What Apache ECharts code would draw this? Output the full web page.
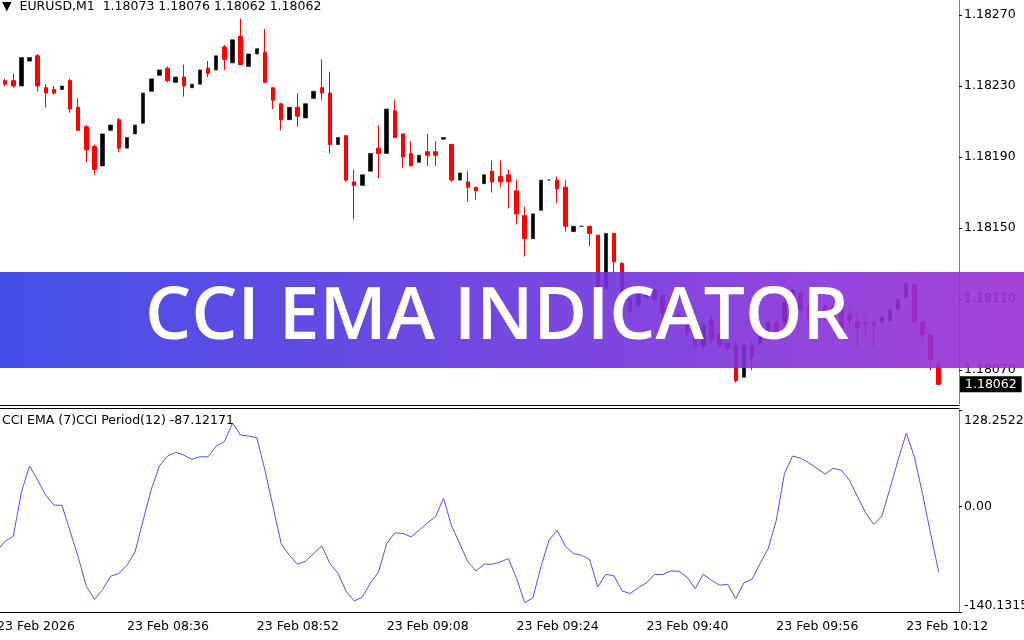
<!DOCTYPE html>
<html>
<head>
<meta charset="utf-8">
<title>CCI EMA Indicator</title>
<script src="https://cdn.jsdelivr.net/npm/echarts@6/dist/echarts.min.js"></script>
<style>
html, body { margin: 0; padding: 0; background: #fff; }
#chart { width: 1024px; height: 640px; }
</style>
</head>
<body>
<div id="chart"></div>
<script>
// minute bars 08:20 .. 10:18 (first and last two slots are empty)
const times = [];
for (let m = 8 * 60 + 20; m <= 10 * 60 + 18; m++) {
	times.push(String(Math.floor(m / 60)).padStart(2, '0') + ':' + String(m % 60).padStart(2, '0'));
}

// EURUSD M1, [open, close, low, high], from 08:21
const ohlc = [
	[1.18233, 1.18231, 1.18230, 1.18234], [1.18233, 1.18230, 1.18229, 1.18237], [1.18230, 1.18246, 1.18230, 1.18246],
	[1.18244, 1.18246, 1.18244, 1.18246], [1.18247, 1.18230, 1.18227, 1.18248], [1.18229, 1.18226, 1.18218, 1.18231],
	[1.18228, 1.18226, 1.18225, 1.18230], [1.18228, 1.18230, 1.18228, 1.18230], [1.18233, 1.18217, 1.18215, 1.18234],
	[1.18218, 1.18205, 1.18205, 1.18223], [1.18207, 1.18194, 1.18187, 1.18208], [1.18196, 1.18183, 1.18180, 1.18197],
	[1.18185, 1.18203, 1.18185, 1.18203], [1.18205, 1.18208, 1.18205, 1.18208], [1.18211, 1.18195, 1.18193, 1.18212],
	[1.18195, 1.18201, 1.18195, 1.18201], [1.18203, 1.18208, 1.18203, 1.18208], [1.18209, 1.18226, 1.18209, 1.18226],
	[1.18227, 1.18234, 1.18227, 1.18234], [1.18236, 1.18239, 1.18236, 1.18239], [1.18240, 1.18233, 1.18232, 1.18241],
	[1.18232, 1.18235, 1.18232, 1.18235], [1.18235, 1.18230, 1.18224, 1.18242], [1.18229, 1.18231, 1.18229, 1.18231],
	[1.18231, 1.18239, 1.18231, 1.18239], [1.18240, 1.18237, 1.18235, 1.18244], [1.18239, 1.18247, 1.18239, 1.18247],
	[1.18252, 1.18245, 1.18239, 1.18253], [1.18243, 1.18256, 1.18243, 1.18256], [1.18258, 1.18242, 1.18242, 1.18268],
	[1.18241, 1.18248, 1.18241, 1.18248], [1.18248, 1.18251, 1.18248, 1.18251], [1.18249, 1.18232, 1.18232, 1.18262],
	[1.18229, 1.18222, 1.18217, 1.18229], [1.18220, 1.18211, 1.18205, 1.18220], [1.18211, 1.18218, 1.18211, 1.18218],
	[1.18218, 1.18213, 1.18207, 1.18226], [1.18212, 1.18220, 1.18212, 1.18220], [1.18223, 1.18227, 1.18223, 1.18227],
	[1.18229, 1.18226, 1.18222, 1.18245], [1.18226, 1.18197, 1.18192, 1.18238], [1.18197, 1.18201, 1.18197, 1.18201],
	[1.18202, 1.18177, 1.18176, 1.18202], [1.18176, 1.18174, 1.18155, 1.18183], [1.18174, 1.18180, 1.18174, 1.18180],
	[1.18182, 1.18192, 1.18182, 1.18192], [1.18195, 1.18192, 1.18178, 1.18208], [1.18192, 1.18217, 1.18192, 1.18217],
	[1.18216, 1.18201, 1.18201, 1.18222], [1.18203, 1.18190, 1.18184, 1.18203], [1.18192, 1.18185, 1.18185, 1.18199],
	[1.18187, 1.18191, 1.18187, 1.18191], [1.18193, 1.18191, 1.18185, 1.18203], [1.18193, 1.18191, 1.18185, 1.18199],
	[1.18200, 1.18201, 1.18200, 1.18201], [1.18197, 1.18177, 1.18176, 1.18197], [1.18177, 1.18181, 1.18177, 1.18181],
	[1.18176, 1.18173, 1.18165, 1.18182], [1.18173, 1.18171, 1.18166, 1.18173], [1.18175, 1.18180, 1.18175, 1.18180],
	[1.18182, 1.18176, 1.18170, 1.18188], [1.18179, 1.18176, 1.18173, 1.18188], [1.18180, 1.18176, 1.18161, 1.18183],
	[1.18171, 1.18158, 1.18152, 1.18177], [1.18157, 1.18144, 1.18134, 1.18162], [1.18144, 1.18158, 1.18144, 1.18158],
	[1.18160, 1.18177, 1.18160, 1.18177], [1.18177, 1.18177, 1.18177, 1.18177], [1.18177, 1.18172, 1.18164, 1.18179],
	[1.18173, 1.18151, 1.18148, 1.18177], [1.18148, 1.18151, 1.18148, 1.18151], [1.18151, 1.18151, 1.18151, 1.18151],
	[1.18151, 1.18147, 1.18140, 1.18151], [1.18146, 1.18110, 1.18107, 1.18146], [1.18116, 1.18147, 1.18116, 1.18147],
	[1.18147, 1.18131, 1.18125, 1.18147], [1.18130, 1.18111, 1.18109, 1.18131], [1.18110, 1.18103, 1.18100, 1.18111],
	[1.18107, 1.18114, 1.18105, 1.18116], [1.18111, 1.18116, 1.18110, 1.18118], [1.18115, 1.18110, 1.18108, 1.18116],
	[1.18112, 1.18102, 1.18099, 1.18113], [1.18102, 1.18099, 1.18097, 1.18104], [1.18101, 1.18097, 1.18095, 1.18103],
	[1.18098, 1.18091, 1.18089, 1.18099], [1.18093, 1.18084, 1.18082, 1.18095], [1.18084, 1.18095, 1.18082, 1.18097],
	[1.18098, 1.18087, 1.18085, 1.18100], [1.18090, 1.18084, 1.18082, 1.18091], [1.18085, 1.18082, 1.18080, 1.18086],
	[1.18084, 1.18064, 1.18063, 1.18086], [1.18066, 1.18084, 1.18066, 1.18085], [1.18084, 1.18077, 1.18070, 1.18087],
	[1.18085, 1.18089, 1.18084, 1.18090], [1.18089, 1.18097, 1.18088, 1.18098], [1.18097, 1.18091, 1.18090, 1.18098],
	[1.18097, 1.18108, 1.18095, 1.18110], [1.18106, 1.18115, 1.18104, 1.18116], [1.18113, 1.18104, 1.18103, 1.18115],
	[1.18105, 1.18099, 1.18097, 1.18107], [1.18099, 1.18104, 1.18098, 1.18106], [1.18106, 1.18100, 1.18098, 1.18107],
	[1.18098, 1.18106, 1.18097, 1.18107], [1.18104, 1.18094, 1.18093, 1.18105], [1.18101, 1.18098, 1.18094, 1.18106],
	[1.18097, 1.18094, 1.18083, 1.18102], [1.18097, 1.18096, 1.18089, 1.18100], [1.18097, 1.18095, 1.18083, 1.18097],
	[1.18097, 1.18100, 1.18096, 1.18100], [1.18098, 1.18104, 1.18098, 1.18104], [1.18104, 1.18110, 1.18103, 1.18110],
	[1.18111, 1.18119, 1.18111, 1.18120], [1.18118, 1.18097, 1.18097, 1.18119], [1.18097, 1.18090, 1.18087, 1.18097],
	[1.18090, 1.18076, 1.18070, 1.18090], [1.18073, 1.18062, 1.18062, 1.18076]
];

// CCI EMA(7) of CCI(12), from 08:20
const cci = [
	-59.0, -46.0, -39.4, 19.2, 53.8, 35.1, 15.2, 1.9, 1.5, -33.0, -67.3, -105.9, -123.6, -110.3, -92.6, -89.0,
	-78.0, -60.3, -18.1, 22.8, 53.8, 67.1, 72.0, 68.4, 62.7, 66.1, 66.1, 80.4, 86.1, 110.6, 95.0, 93.7,
	91.4, 48.4, -0.4, -49.1, -64.7, -76.6, -72.7, -62.4, -52.3, -75.7, -88.6, -112.6, -125.5, -120.2, -101.5, -86.9,
	-49.1, -35.0, -35.8, -40.3, -31.4, -21.7, -13.7, 10.8, -26.1, -49.1, -73.6, -85.6, -76.6, -76.6, -73.6, -69.1,
	-95.7, -127.6, -121.5, -80.2, -44.7, -31.4, -52.7, -62.4, -64.7, -70.4, -106.8, -90.0, -92.2, -112.2, -115.6, -107.6,
	-101.5, -90.3, -90.3, -85.6, -86.0, -93.9, -109.0, -90.0, -97.9, -104.6, -103.3, -122.3, -101.5, -96.6, -75.7, -55.8,
	-18.1, 44.0, 67.1, 64.0, 58.1, 50.7, 43.1, 50.7, 48.4, 35.1, 12.9, -8.4, -23.8, -12.8, 24.1, 61.7,
	97.3, 66.1, 17.4, -35.8, -87.12171
];

const priceTicks = [1.18070, 1.18110, 1.18150, 1.18190, 1.18230, 1.18270];
const priceRange = [1.1805095, 1.182784];
const cciTicks = [-140.1315, 0, 128.2522];
const lastPrice = 1.18062;

const font = 'DejaVu Sans';
const txt = { fontFamily: font, fontSize: 12.5, color: '#000' };

const chart = echarts.init(document.getElementById('chart'));

const candleData = ohlc.map((r, i) => ({
	value: [times[i + 1], r[0], r[1], r[2], r[3]],
	itemStyle: { borderWidth: r[1] < r[0] ? 1 : 0.6 },
}));

const option = {
	animation: false,
	backgroundColor: '#fff',
	title: [
		{ left: 2, top: 0, padding: 0, text: '▼  EURUSD,M1  1.18073 1.18076 1.18062 1.18062', textStyle: { ...txt, fontWeight: 'normal' } },
		{ left: 2, top: 414, padding: 0, text: 'CCI EMA (7)CCI Period(12) -87.12171', textStyle: { ...txt, fontWeight: 'normal' } },
	],
	grid: [
		{ left: -7, right: 65, top: 0, height: 404, outerBoundsMode: 'none', containLabel: false },
		{ left: -7, right: 65, top: 410, height: 202, outerBoundsMode: 'none', containLabel: false },
	],
	xAxis: [
		{
			type: 'category', gridIndex: 0, data: times, position: 'bottom', offset: 1,
			axisLine: { onZero: false, lineStyle: { color: '#000', width: 1 } },
			axisTick: { show: false }, axisLabel: { show: false }, splitLine: { show: false },
		},
		{
			type: 'category', gridIndex: 1, data: times, position: 'top', offset: 2,
			axisLine: { onZero: false, lineStyle: { color: '#000', width: 1 } },
			axisTick: { show: false }, axisLabel: { show: false }, splitLine: { show: false },
		},
		{
			type: 'category', gridIndex: 1, data: times, position: 'bottom',
			axisLine: { onZero: false, lineStyle: { color: '#000', width: 1 } },
			axisTick: { alignWithLabel: true, interval: 15, length: 4, lineStyle: { color: '#000' } },
			axisLabel: {
				...txt, interval: 15, align: 'left', margin: 8,
				formatter: (v, i) => (i === 0 ? '23 Feb 2026' : '23 Feb ' + v),
			},
			splitLine: { show: false },
		},
	],
	yAxis: [
		{
			type: 'value', gridIndex: 0, position: 'right', min: priceRange[0], max: priceRange[1],
			axisLine: { show: true, lineStyle: { color: '#808080' } },
			axisTick: { show: true, length: 3, customValues: priceTicks, lineStyle: { color: '#000' } },
			axisLabel: { ...txt, margin: 5, padding: [3, 0, 0, 0], customValues: priceTicks, formatter: (v) => v.toFixed(5) },
			splitLine: { show: false },
		},
		{
			type: 'value', gridIndex: 1, position: 'right', min: cciTicks[0], max: cciTicks[2],
			axisLine: { show: true, lineStyle: { color: '#808080' } },
			axisTick: { show: true, length: 3, customValues: cciTicks, lineStyle: { color: '#000' } },
			axisLabel: {
				...txt, margin: 5, padding: [4, 0, 0, 0], customValues: cciTicks,
				verticalAlignMinLabel: 'bottom', verticalAlignMaxLabel: 'top',
				formatter: (v) => (v === 0 ? '0.00' : v.toFixed(4)),
			},
			splitLine: { show: false },
		},
		{
			// current price tag on the price scale
			type: 'value', gridIndex: 0, position: 'right', min: priceRange[0], max: priceRange[1], z: 5,
			axisLine: { show: false }, axisTick: { show: false }, splitLine: { show: false },
			axisLabel: {
				...txt, color: '#fff', backgroundColor: '#000', margin: 1, padding: [2, 5, 1, 5],
				customValues: [lastPrice], formatter: (v) => v.toFixed(5),
			},
		},
	],
	graphic: [
		{
			type: 'rect', z: 100, silent: true,
			shape: { x: 0, y: 272, width: 1024, height: 96 },
			style: {
				fill: new echarts.graphic.LinearGradient(0, 0, 1, 0, [
					{ offset: 0, color: '#2f3de6' },
					{ offset: 0.5, color: '#6533dd' },
					{ offset: 1, color: '#9d2fd5' },
				]),
				opacity: 0.9,
			},
		},
		{
			type: 'text', z: 101, silent: true, x: 497, y: 318,
			style: {
				text: 'CCI EMA INDICATOR', fill: '#fff', font: '600 73px "Open Sans"',
				align: 'center', verticalAlign: 'middle', textAlign: 'center', textVerticalAlign: 'middle',
			},
		},
	],
	series: [
		{
			type: 'candlestick', xAxisIndex: 0, yAxisIndex: 0, barWidth: 4,
			encode: { x: 0, y: [1, 2, 3, 4] },
			data: candleData,
			itemStyle: {
				color: '#000', color0: '#ff0000', borderColor: '#000', borderColor0: '#ff0000', borderColorDoji: '#000',
			},
		},
		{
			type: 'line', xAxisIndex: 2, yAxisIndex: 1, data: cci,
			showSymbol: false, symbol: 'none',
			lineStyle: { color: '#5252f0', width: 1 },
		},
	],
};

chart.setOption(option);
</script>
</body>
</html>
